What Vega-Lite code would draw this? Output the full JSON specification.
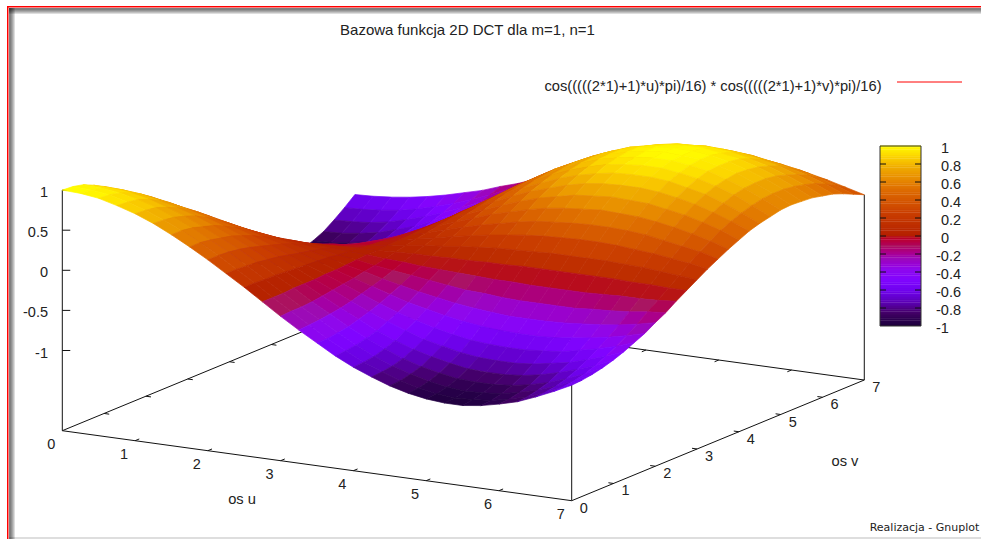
{"$schema":"https://vega.github.io/schema/vega-lite/v6.json","width":981,"height":539,"padding":0,"autosize":{"type":"none"},"background":"white",
"title":{"text":"Bazowa funkcja 2D DCT dla m=1, n=1","font":"Liberation Sans","fontSize":15,"fontWeight":"normal","color":"#222222","anchor":"middle","offset":-38,"dx":-23},
"config":{"view":{"stroke":null}},
"layer":[
{"data":{"values":[{"x1":7,"x2":981,"y1":6,"y2":7.5},{"x1":7,"x2":8.5,"y1":6,"y2":539}]},"mark":{"type":"rect","color":"#ff0000"},"encoding":{"x":{"field":"x1","type":"quantitative","axis":null,"scale":{"domain":[0,981],"nice":false,"zero":false}},"x2":{"field":"x2"},"y":{"field":"y1","type":"quantitative","axis":null,"scale":{"domain":[0,539],"reverse":true,"nice":false,"zero":false}},"y2":{"field":"y2"}}},
{"data":{"values":[{"x1":9,"x2":981,"y1":8,"y2":10},{"x1":9,"x2":981,"y1":8,"y2":11},{"x1":9,"x2":981,"y1":8,"y2":12},{"x1":9,"x2":981,"y1":8,"y2":13},{"x1":9,"x2":981,"y1":8,"y2":14},{"x1":9,"x2":11,"y1":8,"y2":539},{"x1":9,"x2":12,"y1":8,"y2":539},{"x1":9,"x2":13,"y1":8,"y2":539},{"x1":9,"x2":14,"y1":8,"y2":539},{"x1":9,"x2":15,"y1":8,"y2":539},{"x1":9,"x2":981,"y1":537,"y2":539}]},"mark":{"type":"rect","color":"#000000","opacity":0.13},"encoding":{"x":{"field":"x1","type":"quantitative"},"x2":{"field":"x2"},"y":{"field":"y1","type":"quantitative"},"y2":{"field":"y2"}}},
{"data":{"values":[{"u":0,"v":0,"z":-2,"u2":7,"v2":0,"z2":-2},{"u":7,"v":0,"z":-2,"u2":7,"v2":7,"z2":-2},{"u":7,"v":7,"z":-2,"u2":0,"v2":7,"z2":-2},{"u":0,"v":7,"z":-2,"u2":0,"v2":0,"z2":-2},{"u":0,"v":0,"z":-2,"u2":0,"v2":0,"z2":1},{"u":7,"v":0,"z":-2,"u2":7,"v2":0,"z2":-0.55},{"u":7,"v":7,"z":-2,"u2":7,"v2":7,"z2":0.31},
{"u":0,"v":0,"z":1,"u2":0.082,"v2":0.048,"z2":1},{"u":0,"v":0,"z":0.5,"u2":0.082,"v2":0.048,"z2":0.5},{"u":0,"v":0,"z":0,"u2":0.082,"v2":0.048,"z2":0},{"u":0,"v":0,"z":-0.5,"u2":0.082,"v2":0.048,"z2":-0.5},{"u":0,"v":0,"z":-1,"u2":0.082,"v2":0.048,"z2":-1},
{"u":1,"v":0,"z":-2,"u2":1,"v2":0.1,"z2":-2},{"u":2,"v":0,"z":-2,"u2":2,"v2":0.1,"z2":-2},{"u":3,"v":0,"z":-2,"u2":3,"v2":0.1,"z2":-2},{"u":4,"v":0,"z":-2,"u2":4,"v2":0.1,"z2":-2},{"u":5,"v":0,"z":-2,"u2":5,"v2":0.1,"z2":-2},{"u":6,"v":0,"z":-2,"u2":6,"v2":0.1,"z2":-2},
{"u":1,"v":7,"z":-2,"u2":1,"v2":6.9,"z2":-2},{"u":2,"v":7,"z":-2,"u2":2,"v2":6.9,"z2":-2},{"u":3,"v":7,"z":-2,"u2":3,"v2":6.9,"z2":-2},{"u":4,"v":7,"z":-2,"u2":4,"v2":6.9,"z2":-2},{"u":5,"v":7,"z":-2,"u2":5,"v2":6.9,"z2":-2},{"u":6,"v":7,"z":-2,"u2":6,"v2":6.9,"z2":-2},
{"u":0,"v":1,"z":-2,"u2":0.07,"v2":1,"z2":-2},{"u":0,"v":2,"z":-2,"u2":0.07,"v2":2,"z2":-2},{"u":0,"v":3,"z":-2,"u2":0.07,"v2":3,"z2":-2},{"u":0,"v":4,"z":-2,"u2":0.07,"v2":4,"z2":-2},{"u":0,"v":5,"z":-2,"u2":0.07,"v2":5,"z2":-2},{"u":0,"v":6,"z":-2,"u2":0.07,"v2":6,"z2":-2},
{"u":7,"v":1,"z":-2,"u2":6.93,"v2":1,"z2":-2},{"u":7,"v":2,"z":-2,"u2":6.93,"v2":2,"z2":-2},{"u":7,"v":3,"z":-2,"u2":6.93,"v2":3,"z2":-2},{"u":7,"v":4,"z":-2,"u2":6.93,"v2":4,"z2":-2},{"u":7,"v":5,"z":-2,"u2":6.93,"v2":5,"z2":-2},{"u":7,"v":6,"z":-2,"u2":6.93,"v2":6,"z2":-2}]},
"transform":[{"calculate":"62.3+72.77*datum.u+41.8*datum.v","as":"across"},{"calculate":"430.7+10*datum.u-17.24*datum.v-80.2*(datum.z+2)","as":"down"},{"calculate":"62.3+72.77*datum.u2+41.8*datum.v2","as":"across2"},{"calculate":"430.7+10*datum.u2-17.24*datum.v2-80.2*(datum.z2+2)","as":"down2"}],
"mark":{"type":"rule","color":"#111111","strokeWidth":1},"encoding":{"x":{"field":"across","type":"quantitative"},"y":{"field":"down","type":"quantitative"},"x2":{"field":"across2"},"y2":{"field":"down2"}}},
{"data":{"name":"surface","values":[
{"u":0,"v":0,"z":1},{"u":0.25,"v":0,"z":0.99},{"u":0.5,"v":0,"z":0.96},{"u":0.75,"v":0,"z":0.9},{"u":1,"v":0,"z":0.83},{"u":1.25,"v":0,"z":0.74},{"u":1.5,"v":0,"z":0.63},{"u":1.75,"v":0,"z":0.51},{"u":2,"v":0,"z":0.38},{"u":2.25,"v":0,"z":0.24},{"u":2.5,"v":0,"z":0.1},{"u":2.75,"v":0,"z":-0.05},{"u":3,"v":0,"z":-0.2},{"u":3.25,"v":0,"z":-0.34},{"u":3.5,"v":0,"z":-0.47},{"u":3.75,"v":0,"z":-0.6},{"u":4,"v":0,"z":-0.71},{"u":4.25,"v":0,"z":-0.8},{"u":4.5,"v":0,"z":-0.88},{"u":4.75,"v":0,"z":-0.94},{"u":5,"v":0,"z":-0.98},{"u":5.25,"v":0,"z":-1},{"u":5.5,"v":0,"z":-1},{"u":5.75,"v":0,"z":-0.97},{"u":6,"v":0,"z":-0.92},{"u":6.25,"v":0,"z":-0.86},{"u":6.5,"v":0,"z":-0.77},{"u":6.75,"v":0,"z":-0.67},{"u":7,"v":0,"z":-0.56},
{"u":0,"v":0.25,"z":0.99},{"u":0.25,"v":0.25,"z":0.98},{"u":0.5,"v":0.25,"z":0.95},{"u":0.75,"v":0.25,"z":0.89},{"u":1,"v":0.25,"z":0.82},{"u":1.25,"v":0.25,"z":0.73},{"u":1.5,"v":0.25,"z":0.63},{"u":1.75,"v":0.25,"z":0.51},{"u":2,"v":0.25,"z":0.38},{"u":2.25,"v":0.25,"z":0.24},{"u":2.5,"v":0.25,"z":0.1},{"u":2.75,"v":0.25,"z":-0.05},{"u":3,"v":0.25,"z":-0.19},{"u":3.25,"v":0.25,"z":-0.33},{"u":3.5,"v":0.25,"z":-0.47},{"u":3.75,"v":0.25,"z":-0.59},{"u":4,"v":0.25,"z":-0.7},{"u":4.25,"v":0.25,"z":-0.79},{"u":4.5,"v":0.25,"z":-0.87},{"u":4.75,"v":0.25,"z":-0.93},{"u":5,"v":0.25,"z":-0.97},{"u":5.25,"v":0.25,"z":-0.99},{"u":5.5,"v":0.25,"z":-0.98},{"u":5.75,"v":0.25,"z":-0.96},{"u":6,"v":0.25,"z":-0.91},{"u":6.25,"v":0.25,"z":-0.85},{"u":6.5,"v":0.25,"z":-0.76},{"u":6.75,"v":0.25,"z":-0.66},{"u":7,"v":0.25,"z":-0.55},
{"u":0,"v":0.5,"z":0.96},{"u":0.25,"v":0.5,"z":0.95},{"u":0.5,"v":0.5,"z":0.92},{"u":0.75,"v":0.5,"z":0.87},{"u":1,"v":0.5,"z":0.8},{"u":1.25,"v":0.5,"z":0.71},{"u":1.5,"v":0.5,"z":0.61},{"u":1.75,"v":0.5,"z":0.49},{"u":2,"v":0.5,"z":0.37},{"u":2.25,"v":0.5,"z":0.23},{"u":2.5,"v":0.5,"z":0.09},{"u":2.75,"v":0.5,"z":-0.05},{"u":3,"v":0.5,"z":-0.19},{"u":3.25,"v":0.5,"z":-0.32},{"u":3.5,"v":0.5,"z":-0.45},{"u":3.75,"v":0.5,"z":-0.57},{"u":4,"v":0.5,"z":-0.68},{"u":4.25,"v":0.5,"z":-0.77},{"u":4.5,"v":0.5,"z":-0.84},{"u":4.75,"v":0.5,"z":-0.9},{"u":5,"v":0.5,"z":-0.94},{"u":5.25,"v":0.5,"z":-0.96},{"u":5.5,"v":0.5,"z":-0.95},{"u":5.75,"v":0.5,"z":-0.93},{"u":6,"v":0.5,"z":-0.88},{"u":6.25,"v":0.5,"z":-0.82},{"u":6.5,"v":0.5,"z":-0.74},{"u":6.75,"v":0.5,"z":-0.64},{"u":7,"v":0.5,"z":-0.53},
{"u":0,"v":0.75,"z":0.9},{"u":0.25,"v":0.75,"z":0.89},{"u":0.5,"v":0.75,"z":0.87},{"u":0.75,"v":0.75,"z":0.82},{"u":1,"v":0.75,"z":0.75},{"u":1.25,"v":0.75,"z":0.67},{"u":1.5,"v":0.75,"z":0.57},{"u":1.75,"v":0.75,"z":0.46},{"u":2,"v":0.75,"z":0.35},{"u":2.25,"v":0.75,"z":0.22},{"u":2.5,"v":0.75,"z":0.09},{"u":2.75,"v":0.75,"z":-0.04},{"u":3,"v":0.75,"z":-0.18},{"u":3.25,"v":0.75,"z":-0.3},{"u":3.5,"v":0.75,"z":-0.43},{"u":3.75,"v":0.75,"z":-0.54},{"u":4,"v":0.75,"z":-0.64},{"u":4.25,"v":0.75,"z":-0.73},{"u":4.5,"v":0.75,"z":-0.8},{"u":4.75,"v":0.75,"z":-0.85},{"u":5,"v":0.75,"z":-0.89},{"u":5.25,"v":0.75,"z":-0.9},{"u":5.5,"v":0.75,"z":-0.9},{"u":5.75,"v":0.75,"z":-0.88},{"u":6,"v":0.75,"z":-0.84},{"u":6.25,"v":0.75,"z":-0.78},{"u":6.5,"v":0.75,"z":-0.7},{"u":6.75,"v":0.75,"z":-0.61},{"u":7,"v":0.75,"z":-0.5},
{"u":0,"v":1,"z":0.83},{"u":0.25,"v":1,"z":0.82},{"u":0.5,"v":1,"z":0.8},{"u":0.75,"v":1,"z":0.75},{"u":1,"v":1,"z":0.69},{"u":1.25,"v":1,"z":0.62},{"u":1.5,"v":1,"z":0.53},{"u":1.75,"v":1,"z":0.43},{"u":2,"v":1,"z":0.32},{"u":2.25,"v":1,"z":0.2},{"u":2.5,"v":1,"z":0.08},{"u":2.75,"v":1,"z":-0.04},{"u":3,"v":1,"z":-0.16},{"u":3.25,"v":1,"z":-0.28},{"u":3.5,"v":1,"z":-0.39},{"u":3.75,"v":1,"z":-0.5},{"u":4,"v":1,"z":-0.59},{"u":4.25,"v":1,"z":-0.67},{"u":4.5,"v":1,"z":-0.73},{"u":4.75,"v":1,"z":-0.78},{"u":5,"v":1,"z":-0.82},{"u":5.25,"v":1,"z":-0.83},{"u":5.5,"v":1,"z":-0.83},{"u":5.75,"v":1,"z":-0.81},{"u":6,"v":1,"z":-0.77},{"u":6.25,"v":1,"z":-0.71},{"u":6.5,"v":1,"z":-0.64},{"u":6.75,"v":1,"z":-0.56},{"u":7,"v":1,"z":-0.46},
{"u":0,"v":1.25,"z":0.74},{"u":0.25,"v":1.25,"z":0.73},{"u":0.5,"v":1.25,"z":0.71},{"u":0.75,"v":1.25,"z":0.67},{"u":1,"v":1.25,"z":0.62},{"u":1.25,"v":1.25,"z":0.55},{"u":1.5,"v":1.25,"z":0.47},{"u":1.75,"v":1.25,"z":0.38},{"u":2,"v":1.25,"z":0.28},{"u":2.25,"v":1.25,"z":0.18},{"u":2.5,"v":1.25,"z":0.07},{"u":2.75,"v":1.25,"z":-0.04},{"u":3,"v":1.25,"z":-0.14},{"u":3.25,"v":1.25,"z":-0.25},{"u":3.5,"v":1.25,"z":-0.35},{"u":3.75,"v":1.25,"z":-0.44},{"u":4,"v":1.25,"z":-0.52},{"u":4.25,"v":1.25,"z":-0.6},{"u":4.5,"v":1.25,"z":-0.65},{"u":4.75,"v":1.25,"z":-0.7},{"u":5,"v":1.25,"z":-0.73},{"u":5.25,"v":1.25,"z":-0.74},{"u":5.5,"v":1.25,"z":-0.74},{"u":5.75,"v":1.25,"z":-0.72},{"u":6,"v":1.25,"z":-0.68},{"u":6.25,"v":1.25,"z":-0.64},{"u":6.5,"v":1.25,"z":-0.57},{"u":6.75,"v":1.25,"z":-0.5},{"u":7,"v":1.25,"z":-0.41},
{"u":0,"v":1.5,"z":0.63},{"u":0.25,"v":1.5,"z":0.63},{"u":0.5,"v":1.5,"z":0.61},{"u":0.75,"v":1.5,"z":0.57},{"u":1,"v":1.5,"z":0.53},{"u":1.25,"v":1.5,"z":0.47},{"u":1.5,"v":1.5,"z":0.4},{"u":1.75,"v":1.5,"z":0.33},{"u":2,"v":1.5,"z":0.24},{"u":2.25,"v":1.5,"z":0.15},{"u":2.5,"v":1.5,"z":0.06},{"u":2.75,"v":1.5,"z":-0.03},{"u":3,"v":1.5,"z":-0.12},{"u":3.25,"v":1.5,"z":-0.21},{"u":3.5,"v":1.5,"z":-0.3},{"u":3.75,"v":1.5,"z":-0.38},{"u":4,"v":1.5,"z":-0.45},{"u":4.25,"v":1.5,"z":-0.51},{"u":4.5,"v":1.5,"z":-0.56},{"u":4.75,"v":1.5,"z":-0.6},{"u":5,"v":1.5,"z":-0.62},{"u":5.25,"v":1.5,"z":-0.63},{"u":5.5,"v":1.5,"z":-0.63},{"u":5.75,"v":1.5,"z":-0.61},{"u":6,"v":1.5,"z":-0.59},{"u":6.25,"v":1.5,"z":-0.54},{"u":6.5,"v":1.5,"z":-0.49},{"u":6.75,"v":1.5,"z":-0.43},{"u":7,"v":1.5,"z":-0.35},
{"u":0,"v":1.75,"z":0.51},{"u":0.25,"v":1.75,"z":0.51},{"u":0.5,"v":1.75,"z":0.49},{"u":0.75,"v":1.75,"z":0.46},{"u":1,"v":1.75,"z":0.43},{"u":1.25,"v":1.75,"z":0.38},{"u":1.5,"v":1.75,"z":0.33},{"u":1.75,"v":1.75,"z":0.26},{"u":2,"v":1.75,"z":0.2},{"u":2.25,"v":1.75,"z":0.12},{"u":2.5,"v":1.75,"z":0.05},{"u":2.75,"v":1.75,"z":-0.03},{"u":3,"v":1.75,"z":-0.1},{"u":3.25,"v":1.75,"z":-0.17},{"u":3.5,"v":1.75,"z":-0.24},{"u":3.75,"v":1.75,"z":-0.31},{"u":4,"v":1.75,"z":-0.36},{"u":4.25,"v":1.75,"z":-0.41},{"u":4.5,"v":1.75,"z":-0.45},{"u":4.75,"v":1.75,"z":-0.48},{"u":5,"v":1.75,"z":-0.5},{"u":5.25,"v":1.75,"z":-0.51},{"u":5.5,"v":1.75,"z":-0.51},{"u":5.75,"v":1.75,"z":-0.5},{"u":6,"v":1.75,"z":-0.47},{"u":6.25,"v":1.75,"z":-0.44},{"u":6.5,"v":1.75,"z":-0.4},{"u":6.75,"v":1.75,"z":-0.35},{"u":7,"v":1.75,"z":-0.29},
{"u":0,"v":2,"z":0.38},{"u":0.25,"v":2,"z":0.38},{"u":0.5,"v":2,"z":0.37},{"u":0.75,"v":2,"z":0.35},{"u":1,"v":2,"z":0.32},{"u":1.25,"v":2,"z":0.28},{"u":1.5,"v":2,"z":0.24},{"u":1.75,"v":2,"z":0.2},{"u":2,"v":2,"z":0.15},{"u":2.25,"v":2,"z":0.09},{"u":2.5,"v":2,"z":0.04},{"u":2.75,"v":2,"z":-0.02},{"u":3,"v":2,"z":-0.07},{"u":3.25,"v":2,"z":-0.13},{"u":3.5,"v":2,"z":-0.18},{"u":3.75,"v":2,"z":-0.23},{"u":4,"v":2,"z":-0.27},{"u":4.25,"v":2,"z":-0.31},{"u":4.5,"v":2,"z":-0.34},{"u":4.75,"v":2,"z":-0.36},{"u":5,"v":2,"z":-0.38},{"u":5.25,"v":2,"z":-0.38},{"u":5.5,"v":2,"z":-0.38},{"u":5.75,"v":2,"z":-0.37},{"u":6,"v":2,"z":-0.35},{"u":6.25,"v":2,"z":-0.33},{"u":6.5,"v":2,"z":-0.3},{"u":6.75,"v":2,"z":-0.26},{"u":7,"v":2,"z":-0.21},
{"u":0,"v":2.25,"z":0.24},{"u":0.25,"v":2.25,"z":0.24},{"u":0.5,"v":2.25,"z":0.23},{"u":0.75,"v":2.25,"z":0.22},{"u":1,"v":2.25,"z":0.2},{"u":1.25,"v":2.25,"z":0.18},{"u":1.5,"v":2.25,"z":0.15},{"u":1.75,"v":2.25,"z":0.12},{"u":2,"v":2.25,"z":0.09},{"u":2.25,"v":2.25,"z":0.06},{"u":2.5,"v":2.25,"z":0.02},{"u":2.75,"v":2.25,"z":-0.01},{"u":3,"v":2.25,"z":-0.05},{"u":3.25,"v":2.25,"z":-0.08},{"u":3.5,"v":2.25,"z":-0.11},{"u":3.75,"v":2.25,"z":-0.14},{"u":4,"v":2.25,"z":-0.17},{"u":4.25,"v":2.25,"z":-0.2},{"u":4.5,"v":2.25,"z":-0.21},{"u":4.75,"v":2.25,"z":-0.23},{"u":5,"v":2.25,"z":-0.24},{"u":5.25,"v":2.25,"z":-0.24},{"u":5.5,"v":2.25,"z":-0.24},{"u":5.75,"v":2.25,"z":-0.24},{"u":6,"v":2.25,"z":-0.22},{"u":6.25,"v":2.25,"z":-0.21},{"u":6.5,"v":2.25,"z":-0.19},{"u":6.75,"v":2.25,"z":-0.16},{"u":7,"v":2.25,"z":-0.14},
{"u":0,"v":2.5,"z":0.1},{"u":0.25,"v":2.5,"z":0.1},{"u":0.5,"v":2.5,"z":0.09},{"u":0.75,"v":2.5,"z":0.09},{"u":1,"v":2.5,"z":0.08},{"u":1.25,"v":2.5,"z":0.07},{"u":1.5,"v":2.5,"z":0.06},{"u":1.75,"v":2.5,"z":0.05},{"u":2,"v":2.5,"z":0.04},{"u":2.25,"v":2.5,"z":0.02},{"u":2.5,"v":2.5,"z":0.01},{"u":2.75,"v":2.5,"z":0},{"u":3,"v":2.5,"z":-0.02},{"u":3.25,"v":2.5,"z":-0.03},{"u":3.5,"v":2.5,"z":-0.05},{"u":3.75,"v":2.5,"z":-0.06},{"u":4,"v":2.5,"z":-0.07},{"u":4.25,"v":2.5,"z":-0.08},{"u":4.5,"v":2.5,"z":-0.09},{"u":4.75,"v":2.5,"z":-0.09},{"u":5,"v":2.5,"z":-0.1},{"u":5.25,"v":2.5,"z":-0.1},{"u":5.5,"v":2.5,"z":-0.1},{"u":5.75,"v":2.5,"z":-0.1},{"u":6,"v":2.5,"z":-0.09},{"u":6.25,"v":2.5,"z":-0.08},{"u":6.5,"v":2.5,"z":-0.08},{"u":6.75,"v":2.5,"z":-0.07},{"u":7,"v":2.5,"z":-0.05},
{"u":0,"v":2.75,"z":-0.05},{"u":0.25,"v":2.75,"z":-0.05},{"u":0.5,"v":2.75,"z":-0.05},{"u":0.75,"v":2.75,"z":-0.04},{"u":1,"v":2.75,"z":-0.04},{"u":1.25,"v":2.75,"z":-0.04},{"u":1.5,"v":2.75,"z":-0.03},{"u":1.75,"v":2.75,"z":-0.03},{"u":2,"v":2.75,"z":-0.02},{"u":2.25,"v":2.75,"z":-0.01},{"u":2.5,"v":2.75,"z":0},{"u":2.75,"v":2.75,"z":0},{"u":3,"v":2.75,"z":0.01},{"u":3.25,"v":2.75,"z":0.02},{"u":3.5,"v":2.75,"z":0.02},{"u":3.75,"v":2.75,"z":0.03},{"u":4,"v":2.75,"z":0.03},{"u":4.25,"v":2.75,"z":0.04},{"u":4.5,"v":2.75,"z":0.04},{"u":4.75,"v":2.75,"z":0.05},{"u":5,"v":2.75,"z":0.05},{"u":5.25,"v":2.75,"z":0.05},{"u":5.5,"v":2.75,"z":0.05},{"u":5.75,"v":2.75,"z":0.05},{"u":6,"v":2.75,"z":0.05},{"u":6.25,"v":2.75,"z":0.04},{"u":6.5,"v":2.75,"z":0.04},{"u":6.75,"v":2.75,"z":0.03},{"u":7,"v":2.75,"z":0.03},
{"u":0,"v":3,"z":-0.2},{"u":0.25,"v":3,"z":-0.19},{"u":0.5,"v":3,"z":-0.19},{"u":0.75,"v":3,"z":-0.18},{"u":1,"v":3,"z":-0.16},{"u":1.25,"v":3,"z":-0.14},{"u":1.5,"v":3,"z":-0.12},{"u":1.75,"v":3,"z":-0.1},{"u":2,"v":3,"z":-0.07},{"u":2.25,"v":3,"z":-0.05},{"u":2.5,"v":3,"z":-0.02},{"u":2.75,"v":3,"z":0.01},{"u":3,"v":3,"z":0.04},{"u":3.25,"v":3,"z":0.07},{"u":3.5,"v":3,"z":0.09},{"u":3.75,"v":3,"z":0.12},{"u":4,"v":3,"z":0.14},{"u":4.25,"v":3,"z":0.16},{"u":4.5,"v":3,"z":0.17},{"u":4.75,"v":3,"z":0.18},{"u":5,"v":3,"z":0.19},{"u":5.25,"v":3,"z":0.19},{"u":5.5,"v":3,"z":0.19},{"u":5.75,"v":3,"z":0.19},{"u":6,"v":3,"z":0.18},{"u":6.25,"v":3,"z":0.17},{"u":6.5,"v":3,"z":0.15},{"u":6.75,"v":3,"z":0.13},{"u":7,"v":3,"z":0.11},
{"u":0,"v":3.25,"z":-0.34},{"u":0.25,"v":3.25,"z":-0.33},{"u":0.5,"v":3.25,"z":-0.32},{"u":0.75,"v":3.25,"z":-0.3},{"u":1,"v":3.25,"z":-0.28},{"u":1.25,"v":3.25,"z":-0.25},{"u":1.5,"v":3.25,"z":-0.21},{"u":1.75,"v":3.25,"z":-0.17},{"u":2,"v":3.25,"z":-0.13},{"u":2.25,"v":3.25,"z":-0.08},{"u":2.5,"v":3.25,"z":-0.03},{"u":2.75,"v":3.25,"z":0.02},{"u":3,"v":3.25,"z":0.07},{"u":3.25,"v":3.25,"z":0.11},{"u":3.5,"v":3.25,"z":0.16},{"u":3.75,"v":3.25,"z":0.2},{"u":4,"v":3.25,"z":0.24},{"u":4.25,"v":3.25,"z":0.27},{"u":4.5,"v":3.25,"z":0.3},{"u":4.75,"v":3.25,"z":0.32},{"u":5,"v":3.25,"z":0.33},{"u":5.25,"v":3.25,"z":0.34},{"u":5.5,"v":3.25,"z":0.34},{"u":5.75,"v":3.25,"z":0.33},{"u":6,"v":3.25,"z":0.31},{"u":6.25,"v":3.25,"z":0.29},{"u":6.5,"v":3.25,"z":0.26},{"u":6.75,"v":3.25,"z":0.23},{"u":7,"v":3.25,"z":0.19},
{"u":0,"v":3.5,"z":-0.47},{"u":0.25,"v":3.5,"z":-0.47},{"u":0.5,"v":3.5,"z":-0.45},{"u":0.75,"v":3.5,"z":-0.43},{"u":1,"v":3.5,"z":-0.39},{"u":1.25,"v":3.5,"z":-0.35},{"u":1.5,"v":3.5,"z":-0.3},{"u":1.75,"v":3.5,"z":-0.24},{"u":2,"v":3.5,"z":-0.18},{"u":2.25,"v":3.5,"z":-0.11},{"u":2.5,"v":3.5,"z":-0.05},{"u":2.75,"v":3.5,"z":0.02},{"u":3,"v":3.5,"z":0.09},{"u":3.25,"v":3.5,"z":0.16},{"u":3.5,"v":3.5,"z":0.22},{"u":3.75,"v":3.5,"z":0.28},{"u":4,"v":3.5,"z":0.33},{"u":4.25,"v":3.5,"z":0.38},{"u":4.5,"v":3.5,"z":0.42},{"u":4.75,"v":3.5,"z":0.44},{"u":5,"v":3.5,"z":0.46},{"u":5.25,"v":3.5,"z":0.47},{"u":5.5,"v":3.5,"z":0.47},{"u":5.75,"v":3.5,"z":0.46},{"u":6,"v":3.5,"z":0.44},{"u":6.25,"v":3.5,"z":0.4},{"u":6.5,"v":3.5,"z":0.36},{"u":6.75,"v":3.5,"z":0.32},{"u":7,"v":3.5,"z":0.26},
{"u":0,"v":3.75,"z":-0.6},{"u":0.25,"v":3.75,"z":-0.59},{"u":0.5,"v":3.75,"z":-0.57},{"u":0.75,"v":3.75,"z":-0.54},{"u":1,"v":3.75,"z":-0.5},{"u":1.25,"v":3.75,"z":-0.44},{"u":1.5,"v":3.75,"z":-0.38},{"u":1.75,"v":3.75,"z":-0.31},{"u":2,"v":3.75,"z":-0.23},{"u":2.25,"v":3.75,"z":-0.14},{"u":2.5,"v":3.75,"z":-0.06},{"u":2.75,"v":3.75,"z":0.03},{"u":3,"v":3.75,"z":0.12},{"u":3.25,"v":3.75,"z":0.2},{"u":3.5,"v":3.75,"z":0.28},{"u":3.75,"v":3.75,"z":0.36},{"u":4,"v":3.75,"z":0.42},{"u":4.25,"v":3.75,"z":0.48},{"u":4.5,"v":3.75,"z":0.53},{"u":4.75,"v":3.75,"z":0.56},{"u":5,"v":3.75,"z":0.58},{"u":5.25,"v":3.75,"z":0.6},{"u":5.5,"v":3.75,"z":0.59},{"u":5.75,"v":3.75,"z":0.58},{"u":6,"v":3.75,"z":0.55},{"u":6.25,"v":3.75,"z":0.51},{"u":6.5,"v":3.75,"z":0.46},{"u":6.75,"v":3.75,"z":0.4},{"u":7,"v":3.75,"z":0.33},
{"u":0,"v":4,"z":-0.71},{"u":0.25,"v":4,"z":-0.7},{"u":0.5,"v":4,"z":-0.68},{"u":0.75,"v":4,"z":-0.64},{"u":1,"v":4,"z":-0.59},{"u":1.25,"v":4,"z":-0.52},{"u":1.5,"v":4,"z":-0.45},{"u":1.75,"v":4,"z":-0.36},{"u":2,"v":4,"z":-0.27},{"u":2.25,"v":4,"z":-0.17},{"u":2.5,"v":4,"z":-0.07},{"u":2.75,"v":4,"z":0.03},{"u":3,"v":4,"z":0.14},{"u":3.25,"v":4,"z":0.24},{"u":3.5,"v":4,"z":0.33},{"u":3.75,"v":4,"z":0.42},{"u":4,"v":4,"z":0.5},{"u":4.25,"v":4,"z":0.57},{"u":4.5,"v":4,"z":0.62},{"u":4.75,"v":4,"z":0.67},{"u":5,"v":4,"z":0.69},{"u":5.25,"v":4,"z":0.71},{"u":5.5,"v":4,"z":0.7},{"u":5.75,"v":4,"z":0.69},{"u":6,"v":4,"z":0.65},{"u":6.25,"v":4,"z":0.61},{"u":6.5,"v":4,"z":0.55},{"u":6.75,"v":4,"z":0.48},{"u":7,"v":4,"z":0.39},
{"u":0,"v":4.25,"z":-0.8},{"u":0.25,"v":4.25,"z":-0.79},{"u":0.5,"v":4.25,"z":-0.77},{"u":0.75,"v":4.25,"z":-0.73},{"u":1,"v":4.25,"z":-0.67},{"u":1.25,"v":4.25,"z":-0.6},{"u":1.5,"v":4.25,"z":-0.51},{"u":1.75,"v":4.25,"z":-0.41},{"u":2,"v":4.25,"z":-0.31},{"u":2.25,"v":4.25,"z":-0.2},{"u":2.5,"v":4.25,"z":-0.08},{"u":2.75,"v":4.25,"z":0.04},{"u":3,"v":4.25,"z":0.16},{"u":3.25,"v":4.25,"z":0.27},{"u":3.5,"v":4.25,"z":0.38},{"u":3.75,"v":4.25,"z":0.48},{"u":4,"v":4.25,"z":0.57},{"u":4.25,"v":4.25,"z":0.64},{"u":4.5,"v":4.25,"z":0.71},{"u":4.75,"v":4.25,"z":0.76},{"u":5,"v":4.25,"z":0.79},{"u":5.25,"v":4.25,"z":0.8},{"u":5.5,"v":4.25,"z":0.8},{"u":5.75,"v":4.25,"z":0.78},{"u":6,"v":4.25,"z":0.74},{"u":6.25,"v":4.25,"z":0.69},{"u":6.5,"v":4.25,"z":0.62},{"u":6.75,"v":4.25,"z":0.54},{"u":7,"v":4.25,"z":0.45},
{"u":0,"v":4.5,"z":-0.88},{"u":0.25,"v":4.5,"z":-0.87},{"u":0.5,"v":4.5,"z":-0.84},{"u":0.75,"v":4.5,"z":-0.8},{"u":1,"v":4.5,"z":-0.73},{"u":1.25,"v":4.5,"z":-0.65},{"u":1.5,"v":4.5,"z":-0.56},{"u":1.75,"v":4.5,"z":-0.45},{"u":2,"v":4.5,"z":-0.34},{"u":2.25,"v":4.5,"z":-0.21},{"u":2.5,"v":4.5,"z":-0.09},{"u":2.75,"v":4.5,"z":0.04},{"u":3,"v":4.5,"z":0.17},{"u":3.25,"v":4.5,"z":0.3},{"u":3.5,"v":4.5,"z":0.42},{"u":3.75,"v":4.5,"z":0.53},{"u":4,"v":4.5,"z":0.62},{"u":4.25,"v":4.5,"z":0.71},{"u":4.5,"v":4.5,"z":0.78},{"u":4.75,"v":4.5,"z":0.83},{"u":5,"v":4.5,"z":0.87},{"u":5.25,"v":4.5,"z":0.88},{"u":5.5,"v":4.5,"z":0.88},{"u":5.75,"v":4.5,"z":0.86},{"u":6,"v":4.5,"z":0.81},{"u":6.25,"v":4.5,"z":0.76},{"u":6.5,"v":4.5,"z":0.68},{"u":6.75,"v":4.5,"z":0.59},{"u":7,"v":4.5,"z":0.49},
{"u":0,"v":4.75,"z":-0.94},{"u":0.25,"v":4.75,"z":-0.93},{"u":0.5,"v":4.75,"z":-0.9},{"u":0.75,"v":4.75,"z":-0.85},{"u":1,"v":4.75,"z":-0.78},{"u":1.25,"v":4.75,"z":-0.7},{"u":1.5,"v":4.75,"z":-0.6},{"u":1.75,"v":4.75,"z":-0.48},{"u":2,"v":4.75,"z":-0.36},{"u":2.25,"v":4.75,"z":-0.23},{"u":2.5,"v":4.75,"z":-0.09},{"u":2.75,"v":4.75,"z":0.05},{"u":3,"v":4.75,"z":0.18},{"u":3.25,"v":4.75,"z":0.32},{"u":3.5,"v":4.75,"z":0.44},{"u":3.75,"v":4.75,"z":0.56},{"u":4,"v":4.75,"z":0.67},{"u":4.25,"v":4.75,"z":0.76},{"u":4.5,"v":4.75,"z":0.83},{"u":4.75,"v":4.75,"z":0.89},{"u":5,"v":4.75,"z":0.92},{"u":5.25,"v":4.75,"z":0.94},{"u":5.5,"v":4.75,"z":0.94},{"u":5.75,"v":4.75,"z":0.91},{"u":6,"v":4.75,"z":0.87},{"u":6.25,"v":4.75,"z":0.81},{"u":6.5,"v":4.75,"z":0.73},{"u":6.75,"v":4.75,"z":0.63},{"u":7,"v":4.75,"z":0.52},
{"u":0,"v":5,"z":-0.98},{"u":0.25,"v":5,"z":-0.97},{"u":0.5,"v":5,"z":-0.94},{"u":0.75,"v":5,"z":-0.89},{"u":1,"v":5,"z":-0.82},{"u":1.25,"v":5,"z":-0.73},{"u":1.5,"v":5,"z":-0.62},{"u":1.75,"v":5,"z":-0.5},{"u":2,"v":5,"z":-0.38},{"u":2.25,"v":5,"z":-0.24},{"u":2.5,"v":5,"z":-0.1},{"u":2.75,"v":5,"z":0.05},{"u":3,"v":5,"z":0.19},{"u":3.25,"v":5,"z":0.33},{"u":3.5,"v":5,"z":0.46},{"u":3.75,"v":5,"z":0.58},{"u":4,"v":5,"z":0.69},{"u":4.25,"v":5,"z":0.79},{"u":4.5,"v":5,"z":0.87},{"u":4.75,"v":5,"z":0.92},{"u":5,"v":5,"z":0.96},{"u":5.25,"v":5,"z":0.98},{"u":5.5,"v":5,"z":0.98},{"u":5.75,"v":5,"z":0.95},{"u":6,"v":5,"z":0.91},{"u":6.25,"v":5,"z":0.84},{"u":6.5,"v":5,"z":0.76},{"u":6.75,"v":5,"z":0.66},{"u":7,"v":5,"z":0.55},
{"u":0,"v":5.25,"z":-1},{"u":0.25,"v":5.25,"z":-0.99},{"u":0.5,"v":5.25,"z":-0.96},{"u":0.75,"v":5.25,"z":-0.9},{"u":1,"v":5.25,"z":-0.83},{"u":1.25,"v":5.25,"z":-0.74},{"u":1.5,"v":5.25,"z":-0.63},{"u":1.75,"v":5.25,"z":-0.51},{"u":2,"v":5.25,"z":-0.38},{"u":2.25,"v":5.25,"z":-0.24},{"u":2.5,"v":5.25,"z":-0.1},{"u":2.75,"v":5.25,"z":0.05},{"u":3,"v":5.25,"z":0.19},{"u":3.25,"v":5.25,"z":0.34},{"u":3.5,"v":5.25,"z":0.47},{"u":3.75,"v":5.25,"z":0.6},{"u":4,"v":5.25,"z":0.71},{"u":4.25,"v":5.25,"z":0.8},{"u":4.5,"v":5.25,"z":0.88},{"u":4.75,"v":5.25,"z":0.94},{"u":5,"v":5.25,"z":0.98},{"u":5.25,"v":5.25,"z":1},{"u":5.5,"v":5.25,"z":0.99},{"u":5.75,"v":5.25,"z":0.97},{"u":6,"v":5.25,"z":0.92},{"u":6.25,"v":5.25,"z":0.86},{"u":6.5,"v":5.25,"z":0.77},{"u":6.75,"v":5.25,"z":0.67},{"u":7,"v":5.25,"z":0.56},
{"u":0,"v":5.5,"z":-1},{"u":0.25,"v":5.5,"z":-0.98},{"u":0.5,"v":5.5,"z":-0.95},{"u":0.75,"v":5.5,"z":-0.9},{"u":1,"v":5.5,"z":-0.83},{"u":1.25,"v":5.5,"z":-0.74},{"u":1.5,"v":5.5,"z":-0.63},{"u":1.75,"v":5.5,"z":-0.51},{"u":2,"v":5.5,"z":-0.38},{"u":2.25,"v":5.5,"z":-0.24},{"u":2.5,"v":5.5,"z":-0.1},{"u":2.75,"v":5.5,"z":0.05},{"u":3,"v":5.5,"z":0.19},{"u":3.25,"v":5.5,"z":0.34},{"u":3.5,"v":5.5,"z":0.47},{"u":3.75,"v":5.5,"z":0.59},{"u":4,"v":5.5,"z":0.7},{"u":4.25,"v":5.5,"z":0.8},{"u":4.5,"v":5.5,"z":0.88},{"u":4.75,"v":5.5,"z":0.94},{"u":5,"v":5.5,"z":0.98},{"u":5.25,"v":5.5,"z":0.99},{"u":5.5,"v":5.5,"z":0.99},{"u":5.75,"v":5.5,"z":0.97},{"u":6,"v":5.5,"z":0.92},{"u":6.25,"v":5.5,"z":0.85},{"u":6.5,"v":5.5,"z":0.77},{"u":6.75,"v":5.5,"z":0.67},{"u":7,"v":5.5,"z":0.55},
{"u":0,"v":5.75,"z":-0.97},{"u":0.25,"v":5.75,"z":-0.96},{"u":0.5,"v":5.75,"z":-0.93},{"u":0.75,"v":5.75,"z":-0.88},{"u":1,"v":5.75,"z":-0.81},{"u":1.25,"v":5.75,"z":-0.72},{"u":1.5,"v":5.75,"z":-0.61},{"u":1.75,"v":5.75,"z":-0.5},{"u":2,"v":5.75,"z":-0.37},{"u":2.25,"v":5.75,"z":-0.24},{"u":2.5,"v":5.75,"z":-0.1},{"u":2.75,"v":5.75,"z":0.05},{"u":3,"v":5.75,"z":0.19},{"u":3.25,"v":5.75,"z":0.33},{"u":3.5,"v":5.75,"z":0.46},{"u":3.75,"v":5.75,"z":0.58},{"u":4,"v":5.75,"z":0.69},{"u":4.25,"v":5.75,"z":0.78},{"u":4.5,"v":5.75,"z":0.86},{"u":4.75,"v":5.75,"z":0.91},{"u":5,"v":5.75,"z":0.95},{"u":5.25,"v":5.75,"z":0.97},{"u":5.5,"v":5.75,"z":0.97},{"u":5.75,"v":5.75,"z":0.94},{"u":6,"v":5.75,"z":0.9},{"u":6.25,"v":5.75,"z":0.83},{"u":6.5,"v":5.75,"z":0.75},{"u":6.75,"v":5.75,"z":0.65},{"u":7,"v":5.75,"z":0.54},
{"u":0,"v":6,"z":-0.92},{"u":0.25,"v":6,"z":-0.91},{"u":0.5,"v":6,"z":-0.88},{"u":0.75,"v":6,"z":-0.84},{"u":1,"v":6,"z":-0.77},{"u":1.25,"v":6,"z":-0.68},{"u":1.5,"v":6,"z":-0.59},{"u":1.75,"v":6,"z":-0.47},{"u":2,"v":6,"z":-0.35},{"u":2.25,"v":6,"z":-0.22},{"u":2.5,"v":6,"z":-0.09},{"u":2.75,"v":6,"z":0.05},{"u":3,"v":6,"z":0.18},{"u":3.25,"v":6,"z":0.31},{"u":3.5,"v":6,"z":0.44},{"u":3.75,"v":6,"z":0.55},{"u":4,"v":6,"z":0.65},{"u":4.25,"v":6,"z":0.74},{"u":4.5,"v":6,"z":0.81},{"u":4.75,"v":6,"z":0.87},{"u":5,"v":6,"z":0.91},{"u":5.25,"v":6,"z":0.92},{"u":5.5,"v":6,"z":0.92},{"u":5.75,"v":6,"z":0.9},{"u":6,"v":6,"z":0.85},{"u":6.25,"v":6,"z":0.79},{"u":6.5,"v":6,"z":0.71},{"u":6.75,"v":6,"z":0.62},{"u":7,"v":6,"z":0.51},
{"u":0,"v":6.25,"z":-0.86},{"u":0.25,"v":6.25,"z":-0.85},{"u":0.5,"v":6.25,"z":-0.82},{"u":0.75,"v":6.25,"z":-0.78},{"u":1,"v":6.25,"z":-0.71},{"u":1.25,"v":6.25,"z":-0.64},{"u":1.5,"v":6.25,"z":-0.54},{"u":1.75,"v":6.25,"z":-0.44},{"u":2,"v":6.25,"z":-0.33},{"u":2.25,"v":6.25,"z":-0.21},{"u":2.5,"v":6.25,"z":-0.08},{"u":2.75,"v":6.25,"z":0.04},{"u":3,"v":6.25,"z":0.17},{"u":3.25,"v":6.25,"z":0.29},{"u":3.5,"v":6.25,"z":0.4},{"u":3.75,"v":6.25,"z":0.51},{"u":4,"v":6.25,"z":0.61},{"u":4.25,"v":6.25,"z":0.69},{"u":4.5,"v":6.25,"z":0.76},{"u":4.75,"v":6.25,"z":0.81},{"u":5,"v":6.25,"z":0.84},{"u":5.25,"v":6.25,"z":0.86},{"u":5.5,"v":6.25,"z":0.85},{"u":5.75,"v":6.25,"z":0.83},{"u":6,"v":6.25,"z":0.79},{"u":6.25,"v":6.25,"z":0.74},{"u":6.5,"v":6.25,"z":0.66},{"u":6.75,"v":6.25,"z":0.58},{"u":7,"v":6.25,"z":0.48},
{"u":0,"v":6.5,"z":-0.77},{"u":0.25,"v":6.5,"z":-0.76},{"u":0.5,"v":6.5,"z":-0.74},{"u":0.75,"v":6.5,"z":-0.7},{"u":1,"v":6.5,"z":-0.64},{"u":1.25,"v":6.5,"z":-0.57},{"u":1.5,"v":6.5,"z":-0.49},{"u":1.75,"v":6.5,"z":-0.4},{"u":2,"v":6.5,"z":-0.3},{"u":2.25,"v":6.5,"z":-0.19},{"u":2.5,"v":6.5,"z":-0.08},{"u":2.75,"v":6.5,"z":0.04},{"u":3,"v":6.5,"z":0.15},{"u":3.25,"v":6.5,"z":0.26},{"u":3.5,"v":6.5,"z":0.36},{"u":3.75,"v":6.5,"z":0.46},{"u":4,"v":6.5,"z":0.55},{"u":4.25,"v":6.5,"z":0.62},{"u":4.5,"v":6.5,"z":0.68},{"u":4.75,"v":6.5,"z":0.73},{"u":5,"v":6.5,"z":0.76},{"u":5.25,"v":6.5,"z":0.77},{"u":5.5,"v":6.5,"z":0.77},{"u":5.75,"v":6.5,"z":0.75},{"u":6,"v":6.5,"z":0.71},{"u":6.25,"v":6.5,"z":0.66},{"u":6.5,"v":6.5,"z":0.6},{"u":6.75,"v":6.5,"z":0.52},{"u":7,"v":6.5,"z":0.43},
{"u":0,"v":6.75,"z":-0.67},{"u":0.25,"v":6.75,"z":-0.66},{"u":0.5,"v":6.75,"z":-0.64},{"u":0.75,"v":6.75,"z":-0.61},{"u":1,"v":6.75,"z":-0.56},{"u":1.25,"v":6.75,"z":-0.5},{"u":1.5,"v":6.75,"z":-0.43},{"u":1.75,"v":6.75,"z":-0.35},{"u":2,"v":6.75,"z":-0.26},{"u":2.25,"v":6.75,"z":-0.16},{"u":2.5,"v":6.75,"z":-0.07},{"u":2.75,"v":6.75,"z":0.03},{"u":3,"v":6.75,"z":0.13},{"u":3.25,"v":6.75,"z":0.23},{"u":3.5,"v":6.75,"z":0.32},{"u":3.75,"v":6.75,"z":0.4},{"u":4,"v":6.75,"z":0.48},{"u":4.25,"v":6.75,"z":0.54},{"u":4.5,"v":6.75,"z":0.59},{"u":4.75,"v":6.75,"z":0.63},{"u":5,"v":6.75,"z":0.66},{"u":5.25,"v":6.75,"z":0.67},{"u":5.5,"v":6.75,"z":0.67},{"u":5.75,"v":6.75,"z":0.65},{"u":6,"v":6.75,"z":0.62},{"u":6.25,"v":6.75,"z":0.58},{"u":6.5,"v":6.75,"z":0.52},{"u":6.75,"v":6.75,"z":0.45},{"u":7,"v":6.75,"z":0.37},
{"u":0,"v":7,"z":-0.56},{"u":0.25,"v":7,"z":-0.55},{"u":0.5,"v":7,"z":-0.53},{"u":0.75,"v":7,"z":-0.5},{"u":1,"v":7,"z":-0.46},{"u":1.25,"v":7,"z":-0.41},{"u":1.5,"v":7,"z":-0.35},{"u":1.75,"v":7,"z":-0.29},{"u":2,"v":7,"z":-0.21},{"u":2.25,"v":7,"z":-0.14},{"u":2.5,"v":7,"z":-0.05},{"u":2.75,"v":7,"z":0.03},{"u":3,"v":7,"z":0.11},{"u":3.25,"v":7,"z":0.19},{"u":3.5,"v":7,"z":0.26},{"u":3.75,"v":7,"z":0.33},{"u":4,"v":7,"z":0.39},{"u":4.25,"v":7,"z":0.45},{"u":4.5,"v":7,"z":0.49},{"u":4.75,"v":7,"z":0.52},{"u":5,"v":7,"z":0.55},{"u":5.25,"v":7,"z":0.56},{"u":5.5,"v":7,"z":0.55},{"u":5.75,"v":7,"z":0.54},{"u":6,"v":7,"z":0.51},{"u":6.25,"v":7,"z":0.48},{"u":6.5,"v":7,"z":0.43},{"u":6.75,"v":7,"z":0.37},{"u":7,"v":7,"z":0.31}]},
"transform":[
{"window":[{"op":"lead","field":"z","as":"zr"}],"groupby":["v"],"sort":[{"field":"u","order":"ascending"}]},
{"window":[{"op":"lead","field":"z","as":"zf"},{"op":"lead","field":"zr","as":"zd"}],"groupby":["u"],"sort":[{"field":"v","order":"ascending"}]},
{"filter":"isValid(datum.zr)&&isValid(datum.zf)&&isValid(datum.zd)"},
{"calculate":"62.3+72.77*datum.u+41.8*datum.v","as":"across"},
{"calculate":"430.7+10*datum.u-17.24*datum.v-80.2*(datum.z+2)","as":"down"},
{"calculate":"(datum.z+datum.zr+datum.zf+datum.zd)/4","as":"level"},
{"calculate":"datum.u-datum.v","as":"depth"},
{"calculate":"'M0 0L18.19 '+round((2.5-80.2*(datum.zr-datum.z))*100)/100+'L28.64 '+round((-1.81-80.2*(datum.zd-datum.z))*100)/100+'L10.45 '+round((-4.31-80.2*(datum.zf-datum.z))*100)/100+'Z'","as":"quad"}],
"mark":{"type":"point","filled":true,"size":4,"opacity":1,"strokeWidth":0.7},
"encoding":{"x":{"field":"across","type":"quantitative"},"y":{"field":"down","type":"quantitative"},"shape":{"field":"quad","type":"nominal","scale":null,"legend":null},"order":{"field":"depth","type":"quantitative"},
"color":{"field":"level","type":"quantitative","legend":null,"scale":{"domain":[-1,-0.875,-0.75,-0.625,-0.5,-0.375,-0.25,-0.125,0,0.25,0.5,0.75,1],"range":["#000000","#400062","#5a00b4","#6e02ec","#8004ff","#8f08ec","#9c0db4","#a91562","#b42000","#ca3e00","#dd6b00","#efab00","#ffff00"]}},
"stroke":{"field":"level","type":"quantitative","legend":null,"scale":{"domain":[-1,-0.875,-0.75,-0.625,-0.5,-0.375,-0.25,-0.125,0,0.25,0.5,0.75,1],"range":["#000000","#400062","#5a00b4","#6e02ec","#8004ff","#8f08ec","#9c0db4","#a91562","#b42000","#ca3e00","#dd6b00","#efab00","#ffff00"]}}}},
{"data":{"values":[{"z":-1},{"z":-0.98},{"z":-0.96},{"z":-0.94},{"z":-0.92},{"z":-0.9},{"z":-0.88},{"z":-0.86},{"z":-0.84},{"z":-0.82},{"z":-0.8},{"z":-0.78},{"z":-0.76},{"z":-0.74},{"z":-0.72},{"z":-0.7},{"z":-0.68},{"z":-0.66},{"z":-0.64},{"z":-0.62},{"z":-0.6},{"z":-0.58},{"z":-0.56},{"z":-0.54},{"z":-0.52},{"z":-0.5},{"z":-0.48},{"z":-0.46},{"z":-0.44},{"z":-0.42},{"z":-0.4},{"z":-0.38},{"z":-0.36},{"z":-0.34},{"z":-0.32},{"z":-0.3},{"z":-0.28},{"z":-0.26},{"z":-0.24},{"z":-0.22},{"z":-0.2},{"z":-0.18},{"z":-0.16},{"z":-0.14},{"z":-0.12},{"z":-0.1},{"z":-0.08},{"z":-0.06},{"z":-0.04},{"z":-0.02},{"z":0},{"z":0.02},{"z":0.04},{"z":0.06},{"z":0.08},{"z":0.1},{"z":0.12},{"z":0.14},{"z":0.16},{"z":0.18},{"z":0.2},{"z":0.22},{"z":0.24},{"z":0.26},{"z":0.28},{"z":0.3},{"z":0.32},{"z":0.34},{"z":0.36},{"z":0.38},{"z":0.4},{"z":0.42},{"z":0.44},{"z":0.46},{"z":0.48},{"z":0.5},{"z":0.52},{"z":0.54},{"z":0.56},{"z":0.58},{"z":0.6},{"z":0.62},{"z":0.64},{"z":0.66},{"z":0.68},{"z":0.7},{"z":0.72},{"z":0.74},{"z":0.76},{"z":0.78},{"z":0.8},{"z":0.82},{"z":0.84},{"z":0.86},{"z":0.88},{"z":0.9},{"z":0.92},{"z":0.94},{"z":0.96},{"z":0.98}]},
"transform":[{"calculate":"236-90*datum.z","as":"b1"},{"calculate":"236-90*(datum.z+0.025)","as":"b2"},{"calculate":"880","as":"x1"},{"calculate":"921","as":"x2"}],
"mark":{"type":"rect"},"encoding":{"x":{"field":"x1","type":"quantitative"},"x2":{"field":"x2"},"y":{"field":"b1","type":"quantitative"},"y2":{"field":"b2"},"color":{"field":"z","type":"quantitative","legend":null,"scale":{"domain":[-1,-0.875,-0.75,-0.625,-0.5,-0.375,-0.25,-0.125,0,0.25,0.5,0.75,1],"range":["#000000","#400062","#5a00b4","#6e02ec","#8004ff","#8f08ec","#9c0db4","#a91562","#b42000","#ca3e00","#dd6b00","#efab00","#ffff00"]}}}},
{"data":{"values":[{"x1":880,"x2":921,"y1":146,"y2":326}]},"mark":{"type":"rect","fill":null,"stroke":"#333333","strokeWidth":1},"encoding":{"x":{"field":"x1","type":"quantitative"},"x2":{"field":"x2"},"y":{"field":"y1","type":"quantitative"},"y2":{"field":"y2"}}},
{"data":{"values":[{"z":0.8,"a":880,"b":886},{"z":0.6,"a":880,"b":886},{"z":0.4,"a":880,"b":886},{"z":0.2,"a":880,"b":886},{"z":0,"a":880,"b":886},{"z":-0.2,"a":880,"b":886},{"z":-0.4,"a":880,"b":886},{"z":-0.6,"a":880,"b":886},{"z":-0.8,"a":880,"b":886},{"z":0.8,"a":915,"b":921},{"z":0.6,"a":915,"b":921},{"z":0.4,"a":915,"b":921},{"z":0.2,"a":915,"b":921},{"z":0,"a":915,"b":921},{"z":-0.2,"a":915,"b":921},{"z":-0.4,"a":915,"b":921},{"z":-0.6,"a":915,"b":921},{"z":-0.8,"a":915,"b":921}]},"transform":[{"calculate":"236-90*datum.z","as":"yy"}],"mark":{"type":"rule","color":"#111111","strokeWidth":1},"encoding":{"x":{"field":"a","type":"quantitative"},"x2":{"field":"b"},"y":{"field":"yy","type":"quantitative"}}},
{"data":{"values":[{"z":1,"label":"1"},{"z":0.8,"label":"0.8"},{"z":0.6,"label":"0.6"},{"z":0.4,"label":"0.4"},{"z":0.2,"label":"0.2"},{"z":0,"label":"0"},{"z":-0.2,"label":"-0.2"},{"z":-0.4,"label":"-0.4"},{"z":-0.6,"label":"-0.6"},{"z":-0.8,"label":"-0.8"},{"z":-1,"label":"-1"}]},"transform":[{"calculate":"236-90*datum.z","as":"yy"},{"calculate":"datum.z<0?936:941","as":"xx"}],"mark":{"type":"text","align":"left","baseline":"middle","dy":3,"font":"Liberation Sans","fontSize":14.5,"color":"#222222"},"encoding":{"x":{"field":"xx","type":"quantitative"},"y":{"field":"yy","type":"quantitative"},"text":{"field":"label"}}},
{"data":{"values":[{"u":1,"label":"1"},{"u":2,"label":"2"},{"u":3,"label":"3"},{"u":4,"label":"4"},{"u":5,"label":"5"},{"u":6,"label":"6"},{"u":7,"label":"7"},{"u":0,"label":"0"}]},"transform":[{"calculate":"62.3+72.77*datum.u","as":"across"},{"calculate":"430.7+10*datum.u","as":"down"}],"mark":{"type":"text","align":"center","baseline":"middle","dx":-11,"dy":14,"font":"Liberation Sans","fontSize":14.5,"color":"#222222"},"encoding":{"x":{"field":"across","type":"quantitative"},"y":{"field":"down","type":"quantitative"},"text":{"field":"label"}}},
{"data":{"values":[{"v":0,"label":"0"},{"v":1,"label":"1"},{"v":2,"label":"2"},{"v":3,"label":"3"},{"v":4,"label":"4"},{"v":5,"label":"5"},{"v":6,"label":"6"},{"v":7,"label":"7"}]},"transform":[{"calculate":"571.7+41.8*datum.v","as":"across"},{"calculate":"500.7-17.24*datum.v","as":"down"}],"mark":{"type":"text","align":"center","baseline":"middle","dx":12,"dy":8,"font":"Liberation Sans","fontSize":14.5,"color":"#222222"},"encoding":{"x":{"field":"across","type":"quantitative"},"y":{"field":"down","type":"quantitative"},"text":{"field":"label"}}},
{"data":{"values":[{"z":1,"label":"1"},{"z":0.5,"label":"0.5"},{"z":0,"label":"0"},{"z":-0.5,"label":"-0.5"},{"z":-1,"label":"-1"}]},"transform":[{"calculate":"48","as":"across"},{"calculate":"430.7-80.2*(datum.z+2)","as":"down"}],"mark":{"type":"text","align":"right","baseline":"middle","dy":3,"font":"Liberation Sans","fontSize":14.5,"color":"#222222"},"encoding":{"x":{"field":"across","type":"quantitative"},"y":{"field":"down","type":"quantitative"},"text":{"field":"label"}}},
{"data":{"values":[{"a":242,"b":500,"label":"os u"},{"a":845,"b":462,"label":"os v"},{"a":713,"b":87,"label":"cos(((((2*1)+1)*u)*pi)/16) * cos(((((2*1)+1)*v)*pi)/16)"}]},"mark":{"type":"text","align":"center","baseline":"middle","font":"Liberation Sans","fontSize":14.7,"color":"#222222"},"encoding":{"x":{"field":"a","type":"quantitative"},"y":{"field":"b","type":"quantitative"},"text":{"field":"label"}}},
{"data":{"values":[{"a":924.5,"b":528,"label":"Realizacja - Gnuplot"}]},"mark":{"type":"text","align":"center","baseline":"middle","font":"DejaVu Sans","fontSize":11,"color":"#222222"},"encoding":{"x":{"field":"a","type":"quantitative"},"y":{"field":"b","type":"quantitative"},"text":{"field":"label"}}},
{"data":{"values":[{"a":897,"b":962,"c":82}]},"mark":{"type":"rule","color":"#ff0000","strokeWidth":1},"encoding":{"x":{"field":"a","type":"quantitative"},"x2":{"field":"b"},"y":{"field":"c","type":"quantitative"}}}
]}
